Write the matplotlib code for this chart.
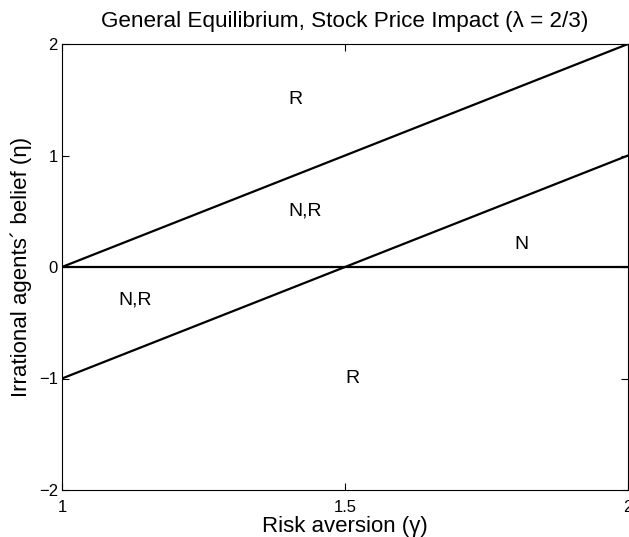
import matplotlib
matplotlib.use('Agg')
import matplotlib.pyplot as plt

plt.rcParams['font.family'] = ['Liberation Sans', 'DejaVu Sans']

gamma = [1, 2]
upper = [0, 2]
lower = [-1, 1]
zero = [0, 0]

region_labels = ['R', 'N,R', 'N', 'N,R', 'R']
region_x = [1.4, 1.4, 1.8, 1.1, 1.5]
region_y = [1.5, 0.5, 0.2, -0.3, -1.0]

fig = plt.figure(figsize=(6.29, 5.37), dpi=100)
ax = fig.add_axes([62/629, 1-490/537, 566/629, 446/537])

ax.plot(gamma, upper, color='k', lw=1.6)
ax.plot(gamma, lower, color='k', lw=1.6)
ax.plot(gamma, zero, color='k', lw=1.6)

for s, x, y in zip(region_labels, region_x, region_y):
    ax.text(x, y, s, ha='left', va='center', fontsize=14)

ax.set_xlim(1, 2)
ax.set_ylim(-2, 2)
ax.set_xticks([1, 1.5, 2])
ax.set_xticklabels(['1', '1.5', '2'])
ax.set_yticks([-2, -1, 0, 1, 2])
ax.set_yticklabels(['\u22122', '\u22121', '0', '1', '2'])
ax.tick_params(direction='in', length=5, labelsize=12, width=0.8)
ax.tick_params(axis='x', pad=7)
ax.tick_params(axis='y', pad=3)
ax.tick_params(top=True, right=True, labeltop=False, labelright=False)
for sp in ax.spines.values():
    sp.set_linewidth(0.8)

ax.set_title('General Equilibrium, Stock Price Impact (\u03bb = 2/3)', fontsize=16.2, pad=12)
ax.set_xlabel('Risk aversion (\u03b3)', fontsize=16, labelpad=1)
ax.set_ylabel('Irrational agents\u00b4 belief (\u03b7)', fontsize=16, labelpad=5)

fig.savefig('out.png', dpi=100)
